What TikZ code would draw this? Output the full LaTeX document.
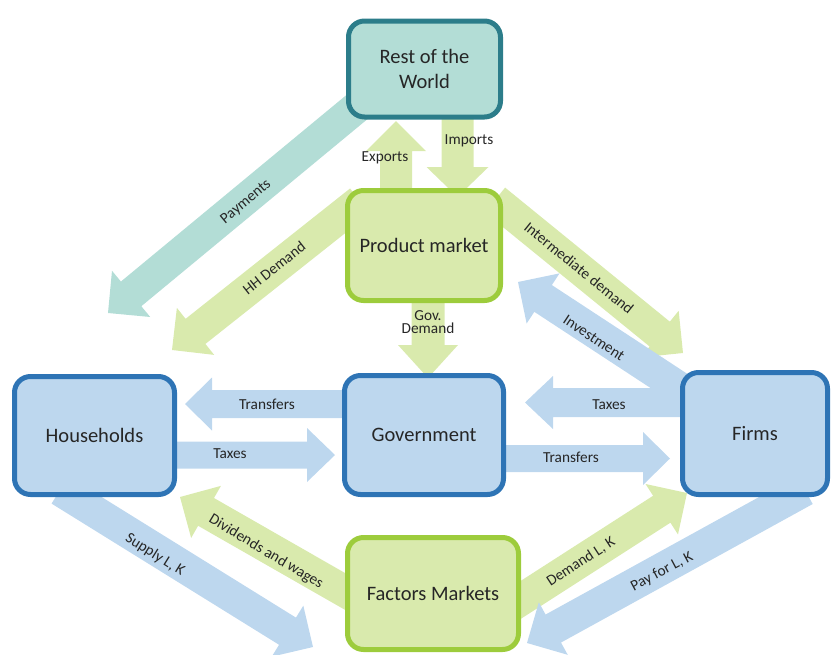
\documentclass[tikz,border=0pt]{standalone}
\usepackage{fontspec}
\setmainfont{Carlito}
\usetikzlibrary{calc}
\definecolor{tealfill}{HTML}{B3DDD6}
\definecolor{tealline}{HTML}{2C7D8A}
\definecolor{greenfill}{HTML}{D9EAAD}
\definecolor{greenline}{HTML}{9DCC3C}
\definecolor{bluefill}{HTML}{BDD7EE}
\definecolor{blueline}{HTML}{2E74B5}
\definecolor{txt}{HTML}{262626}
% block arrow: #1 colour, #2 start, #3 tip, #4 shaft half-width, #5 head half-width, #6 head length
\newcommand\barrow[6]{%
  \coordinate (ba) at (#2);
  \coordinate (bt) at (#3);
  \coordinate (bh) at ($(bt)!#6!(ba)$);
  \fill[#1] ($(ba)!#4!90:(bt)$) -- ($(bh)!#4!90:(bt)$) -- ($(bh)!#5!90:(bt)$) -- (bt)
    -- ($(bh)!#5!-90:(bt)$) -- ($(bh)!#4!-90:(bt)$) -- ($(ba)!#4!-90:(bt)$) -- cycle;
}
\begin{document}
\begin{tikzpicture}[x=1pt,y=-1pt,
  box/.style={rectangle, rounded corners=16pt, line width=5pt, text=txt,
    font=\fontsize{20.5}{25}\selectfont, align=center},
  tealbox/.style={box, fill=tealfill, draw=tealline},
  greenbox/.style={box, fill=greenfill, draw=greenline},
  bluebox/.style={box, fill=bluefill, draw=blueline},
  lbl/.style={font=\fontsize{15.3}{13}\selectfont, text=txt, inner sep=0pt, align=center}]
\useasboundingbox (0,0) rectangle (833,654);

% arrow end points
\coordinate (expS) at (396,190);   \coordinate (expT) at (396,121);
\coordinate (impS) at (457.5,118); \coordinate (impT) at (457.5,197);
\coordinate (gdS) at (428,303);    \coordinate (gdT) at (428,378);
\coordinate (payS) at (380,88);    \coordinate (payT) at (108,313);
\coordinate (hhdS) at (360,201);   \coordinate (hhdT) at (172,350);
\coordinate (imdS) at (495,200);   \coordinate (imdT) at (683,353);
\coordinate (invS) at (695,398);   \coordinate (invT) at (518,282);
\coordinate (trhS) at (350,404);   \coordinate (trhT) at (185,404);
\coordinate (txhS) at (170,455);   \coordinate (txhT) at (335,455);
\coordinate (txfS) at (690,402.5); \coordinate (txfT) at (525,402.5);
\coordinate (trfS) at (500,458.5); \coordinate (trfT) at (670,458.5);
\coordinate (supS) at (60,490);    \coordinate (supT) at (313,647);
\coordinate (divS) at (360,600);   \coordinate (divT) at (180,497);
\coordinate (dlkS) at (505,610);   \coordinate (dlkT) at (687,493);
\coordinate (plkS) at (805,490);   \coordinate (plkT) at (527,643);

% arrows
\barrow{greenfill}{expS}{expT}{16pt}{30pt}{30pt}
\barrow{greenfill}{impS}{impT}{16pt}{31pt}{30pt}
\barrow{greenfill}{gdS}{gdT}{16.5pt}{30pt}{33pt}
\barrow{tealfill}{payS}{payT}{16pt}{30pt}{30pt}
\barrow{greenfill}{hhdS}{hhdT}{16pt}{30pt}{30pt}
\barrow{greenfill}{imdS}{imdT}{16pt}{30pt}{30pt}
\barrow{bluefill}{invS}{invT}{16pt}{30pt}{30pt}
\barrow{bluefill}{trhS}{trhT}{14pt}{26.5pt}{27pt}
\barrow{bluefill}{txhS}{txhT}{13.5pt}{27pt}{28pt}
\barrow{bluefill}{txfS}{txfT}{14.5pt}{26.5pt}{28pt}
\barrow{bluefill}{trfS}{trfT}{13.5pt}{26.5pt}{27pt}
\barrow{bluefill}{supS}{supT}{16pt}{30pt}{30pt}
\barrow{greenfill}{divS}{divT}{16pt}{30pt}{30pt}
\barrow{greenfill}{dlkS}{dlkT}{16pt}{30pt}{30pt}
\barrow{bluefill}{plkS}{plkT}{16pt}{30pt}{30pt}

% boxes
\node[tealbox, minimum width=152pt, minimum height=96pt] (row) at (424.5,69) {Rest of the\\World};
\node[greenbox, minimum width=153pt, minimum height=110pt] (pm) at (424,245.5) {Product market};
\node[bluebox, minimum width=159pt, minimum height=119pt] (gov) at (424,435) {Government};
\node[bluebox, minimum width=160pt, minimum height=118pt] (hh) at (94.5,435.5) {Households};
\node[bluebox, minimum width=145pt, minimum height=122pt] (firms) at (755,433.5) {Firms};
\node[greenbox, minimum width=171pt, minimum height=112pt] (fm) at (433,593.5) {Factors Markets};

% labels
\node[lbl] (lexp) at (385,158) {Exports};
\node[lbl] (limp) at (469,141) {Imports};
\node[lbl] (lgd) at (428,322) {Gov.\\Demand};
\node[lbl, rotate=39.7] (lpay) at (246,202) {Payments};
\node[lbl, rotate=38.3] (lhhd) at (274,268) {HH Demand};
\node[lbl, rotate=-39] (limd) at (579,268) {Intermediate demand};
\node[lbl, rotate=-33.4] (linv) at (594,338) {Investment};
\node[lbl] (ltrh) at (267,404) {Transfers};
\node[lbl] (ltxh) at (230,454) {Taxes};
\node[lbl] (ltxf) at (609,405) {Taxes};
\node[lbl] (ltrf) at (571,457) {Transfers};
\node[lbl, rotate=-32] (lsup) at (155,555) {Supply L, K};
\node[lbl, rotate=-31] (ldiv) at (266,552) {Dividends and wages};
\node[lbl, rotate=33] (ldlk) at (581,562) {Demand L, K};
\node[lbl, rotate=28] (lplk) at (662,572) {Pay for L, K};
\end{tikzpicture}
\end{document}
